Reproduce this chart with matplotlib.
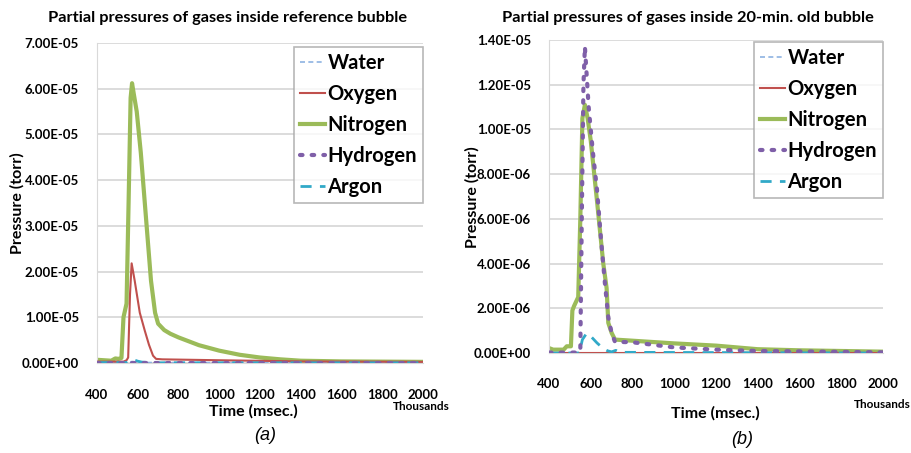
import numpy as np
import matplotlib
matplotlib.use('Agg')
import matplotlib.pyplot as plt
from matplotlib.ticker import FuncFormatter, MultipleLocator

# ---- data (time in thousands of msec, pressure in torr) ----
# panel (a): reference bubble
a_t_n2 = [400, 470, 490, 505, 520, 530, 545, 555, 565, 572, 580, 595, 615, 640, 665, 685, 700,
          730, 760, 800, 900, 1000, 1100, 1200, 1300, 1400, 1600, 1800, 2000]
a_n2 = [0.7e-6, 0.5e-6, 1.0e-6, 0.9e-6, 1.1e-6, 1.0e-5, 1.3e-5, 3.5e-5, 5.8e-5, 6.12e-5, 5.9e-5, 5.5e-5,
        4.6e-5, 3.2e-5, 1.8e-5, 1.1e-5, 8.6e-6, 7.2e-6, 6.4e-6, 5.6e-6, 3.9e-6, 2.7e-6, 1.8e-6,
        1.2e-6, 0.8e-6, 0.5e-6, 0.35e-6, 0.3e-6, 0.25e-6]
a_t_o2 = [400, 530, 545, 553, 562, 570, 585, 610, 635, 655, 675, 690, 720, 1000, 1400, 2000]
a_o2 = [0.3e-6, 0.3e-6, 0.6e-6, 1.2e-6, 1.5e-5, 2.18e-5, 1.8e-5, 1.1e-5, 7.0e-6, 4.0e-6, 1.6e-6,
        0.9e-6, 0.8e-6, 0.6e-6, 0.35e-6, 0.25e-6]
a_t_h2o = [400, 540, 570, 600, 650, 2000]
a_h2o = [0.1e-6, 0.1e-6, 0.3e-6, 0.2e-6, 0.1e-6, 0.05e-6]
a_t_h2 = [400, 2000]
a_h2 = [0.05e-6, 0.05e-6]
a_t_ar = [400, 545, 565, 580, 600, 620, 660, 700, 2000]
a_ar = [0.1e-6, 0.1e-6, 0.5e-6, 0.7e-6, 0.4e-6, 0.2e-6, 0.1e-6, 0.05e-6, 0.05e-6]

# panel (b): 20-min old bubble
b_t_n2 = [400, 420, 470, 485, 505, 512, 520, 540, 550, 560, 572, 585, 600, 630, 660, 676, 684, 700,
          716, 800, 1000, 1200, 1400, 1600, 2000]
b_n2 = [0.22e-6, 0.15e-6, 0.15e-6, 0.3e-6, 0.3e-6, 1.9e-6, 2.1e-6, 2.5e-6, 6.0e-6, 1.05e-5, 1.11e-5,
        1.05e-5, 9.5e-6, 6.8e-6, 4.0e-6, 2.9e-6, 1.35e-6, 0.9e-6, 0.6e-6, 0.55e-6, 0.43e-6, 0.33e-6,
        0.17e-6, 0.12e-6, 0.06e-6]
b_t_h2 = [400, 540, 550, 557, 565, 572, 580, 590, 610, 630, 650, 668, 684, 700, 716, 800, 1000,
          1200, 1400, 2000]
b_h2 = [0.02e-6, 0.02e-6, 0.1e-6, 6.0e-6, 1.2e-5, 1.37e-5, 1.25e-5, 1.1e-5, 9.0e-6, 7.3e-6, 5.0e-6,
        3.1e-6, 1.6e-6, 0.9e-6, 0.5e-6, 0.48e-6, 0.25e-6, 0.15e-6, 0.09e-6, 0.03e-6]
b_t_ar = [400, 545, 560, 580, 600, 630, 660, 680, 700, 720, 740, 2000]
b_ar = [0.0, 0.0, 0.6e-6, 0.88e-6, 0.75e-6, 0.45e-6, 0.2e-6, 0.1e-6, 0.05e-6, 0.12e-6, 0.03e-6, 0.0]
b_t_o2 = [400, 2000]
b_o2 = [0.0, 0.0]
b_t_h2o = [400, 2000]
b_h2o = [0.0, 0.0]

labels = ['Water', 'Oxygen', 'Nitrogen', 'Hydrogen', 'Argon']
col_h2o = '#8db3e2'
col_o2 = '#c0504d'
col_n2 = '#9bbb59'
col_h2 = '#7f5fa8'
col_ar = '#31a9c8'

plt.rcParams['font.family'] = ['Lato', 'DejaVu Sans']

fig = plt.figure(figsize=(9.11, 4.53), dpi=100)
ax1 = fig.add_axes([97/911, 90/453, 326/911, 320/453])
ax2 = fig.add_axes([549/911, 100/453, 334/911, 313/453])


def draw(ax, series, ymax, ystep, xpad, leg_top):
    (t_h2o, h2o), (t_o2, o2), (t_n2, n2), (t_h2, h2), (t_ar, ar) = series
    ax.plot(t_h2o, h2o, color=col_h2o, lw=1.2, ls=(0, (3, 2)), label=labels[0], zorder=3)
    ax.plot(t_o2, o2, color=col_o2, lw=1.5, label=labels[1], zorder=3)
    ax.plot(t_n2, n2, color=col_n2, lw=3, label=labels[2], zorder=2)
    ax.plot(t_h2, h2, color=col_h2, lw=3, ls=(0, (0.6, 2.2)), dash_capstyle='round',
            label=labels[3], zorder=4)
    ax.plot(t_ar, ar, color=col_ar, lw=2, ls=(0, (4, 3)), label=labels[4], zorder=3)

    ax.set_xlim(400, 2000)
    ax.set_ylim(0, ymax)
    ax.xaxis.set_major_locator(MultipleLocator(200))
    ax.yaxis.set_major_locator(MultipleLocator(ystep))
    ax.yaxis.set_major_formatter(FuncFormatter(lambda v, p: '{:.2E}'.format(v)))
    ax.grid(axis='y', color='#d9d9d9', lw=1.3)
    ax.set_axisbelow(True)
    for s in ['top', 'right']:
        ax.spines[s].set_visible(False)
    ax.spines['left'].set_color('#d9d9d9')
    ax.spines['bottom'].set_color('#d9d9d9')
    ax.tick_params(length=0, labelsize=9.5)
    for lab in ax.get_xticklabels() + ax.get_yticklabels():
        lab.set_fontweight('bold')
    ax.tick_params(axis='y', pad=13)
    ax.tick_params(axis='x', pad=xpad)
    leg = ax.legend(loc='upper right', bbox_to_anchor=(1.0, leg_top), fontsize=14.5,
                    frameon=True, fancybox=False, handlelength=1.25, handletextpad=0.1,
                    borderpad=0.3, labelspacing=0.55, borderaxespad=0.0)
    leg.get_frame().set_edgecolor('#a6a6a6')
    leg.get_frame().set_linewidth(1.2)
    for txt in leg.get_texts():
        txt.set_fontweight('bold')


draw(ax1, [(a_t_h2o, a_h2o), (a_t_o2, a_o2), (a_t_n2, a_n2), (a_t_h2, a_h2), (a_t_ar, a_ar)],
     7e-5, 1e-5, 19, 0.988)
draw(ax2, [(b_t_h2o, b_h2o), (b_t_o2, b_o2), (b_t_n2, b_n2), (b_t_h2, b_h2), (b_t_ar, b_ar)],
     1.4e-5, 2e-6, 18, 0.995)

# titles and labels
fig.text(228/911, 1 - 18/453, 'Partial pressures of gases inside reference bubble',
         ha='center', va='center', fontsize=11.8, fontweight='bold')
fig.text(688/911, 1 - 18/453, 'Partial pressures of gases inside 20-min. old bubble',
         ha='center', va='center', fontsize=11.8, fontweight='bold')
fig.text(17/911, 1 - 203/453, 'Pressure (torr)', rotation=90, ha='center', va='center',
         fontsize=11.5, fontweight='bold')
fig.text(472/911, 1 - 197/453, 'Pressure (torr)', rotation=90, ha='center', va='center',
         fontsize=11.5, fontweight='bold')
fig.text(253/911, 1 - 411/453, 'Time (msec.)', ha='center', va='center', fontsize=11.5,
         fontweight='bold')
fig.text(715/911, 1 - 413/453, 'Time (msec.)', ha='center', va='center', fontsize=11.5,
         fontweight='bold')
fig.text(421/911, 1 - 406/453, 'Thousands', ha='center', va='center', fontsize=8.5,
         fontweight='bold')
fig.text(882/911, 1 - 404/453, 'Thousands', ha='center', va='center', fontsize=8.5,
         fontweight='bold')
fig.text(265/911, 1 - 436/453, '(a)', ha='center', va='center', fontsize=13, style='italic',
         family=['Liberation Sans', 'DejaVu Sans'])
fig.text(742/911, 1 - 440/453, '(b)', ha='center', va='center', fontsize=13, style='italic',
         family=['Liberation Sans', 'DejaVu Sans'])

fig.savefig('out.png', dpi=100)
